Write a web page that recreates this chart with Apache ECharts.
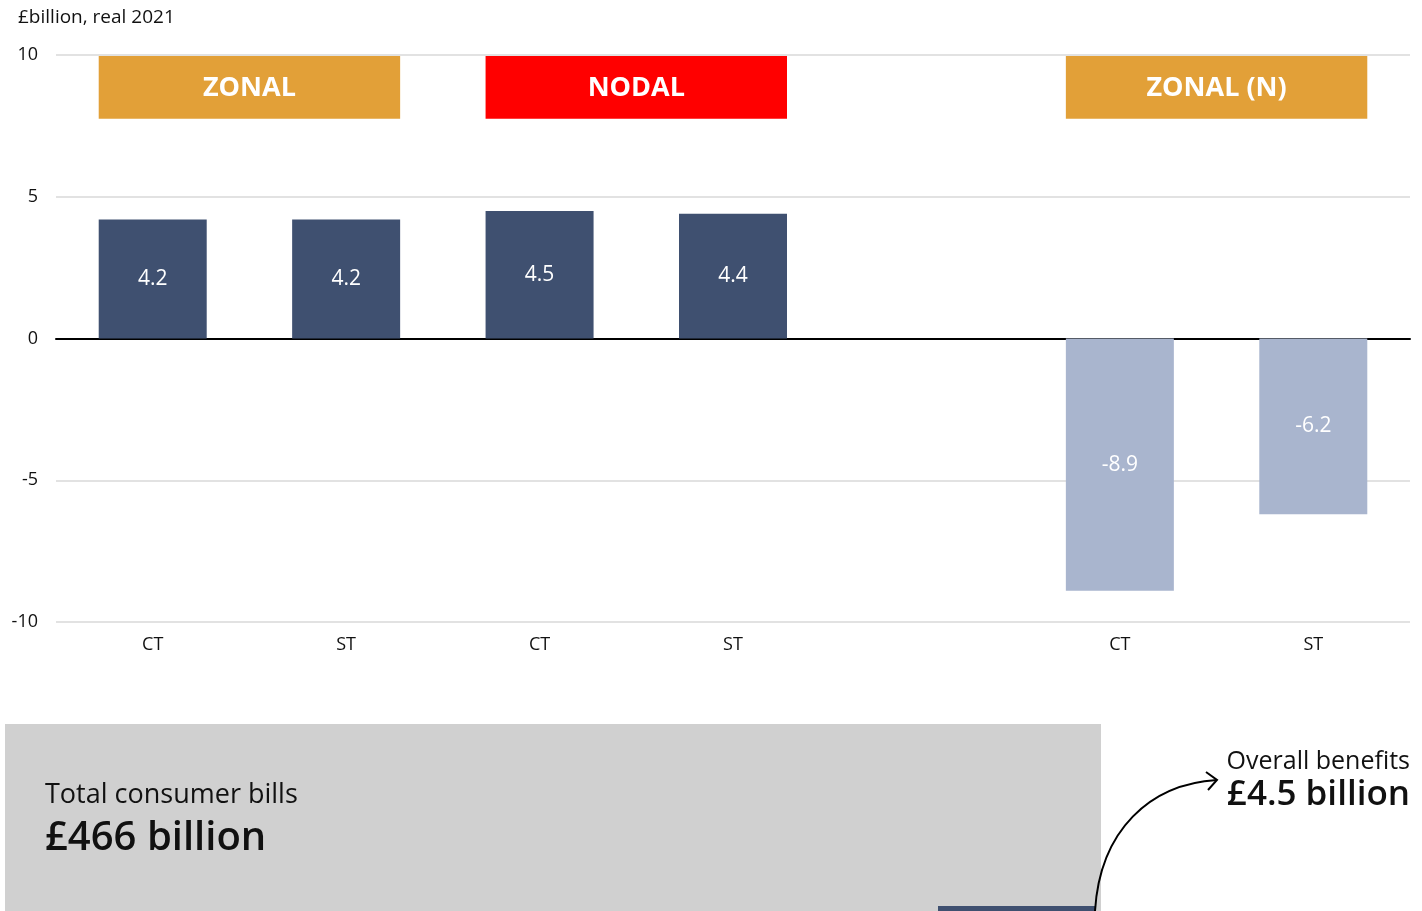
<!DOCTYPE html>
<html>
<head>
<meta charset="utf-8">
<title>Consumer benefits</title>
<script src="https://cdn.jsdelivr.net/npm/echarts@6/dist/echarts.min.js"></script>
<style>
  html, body { margin: 0; padding: 0; background: #ffffff; }
  #chart { width: 1422px; height: 911px; }
</style>
</head>
<body>
<div id="chart"></div>
<script>
// categories on the x axis (the blank one is the gap between the groups)
var categories = ['CT', 'ST', 'CT', 'ST', '', 'CT', 'ST']
// £billion, real 2021
var values = [4.2, 4.2, 4.5, 4.4, null, -8.9, -6.2]
var yTicks = [-10, -5, 0, 5, 10]

// group headers over the bars
var headerNames = ['ZONAL', 'NODAL', 'ZONAL (N)']
var headerFrom = [0, 2, 5]
var headerTo = [1, 3, 6]

var totalBills = '£466 billion'
var overallBenefits = '£4.5 billion'

var FONT = '"Open Sans", "DejaVu Sans", sans-serif'
var BAR_W = 108
var headerColors = ['#E2A038', '#FF0000', '#E2A038']

var chart = echarts.init(document.getElementById('chart'))

var headerData = headerNames.map(function (n, i) {
  return [headerFrom[i], headerTo[i], n, i]
})

chart.setOption({
  animation: false,
  textStyle: { fontFamily: FONT },
  grid: { left: 56, right: 12, top: 55, bottom: 289 },
  xAxis: {
    type: 'category',
    data: categories,
    axisLine: { onZero: true, lineStyle: { color: '#000', width: 2 } },
    axisTick: { show: false },
    axisLabel: { color: '#111', fontSize: 18, margin: 14, fontFamily: FONT }
  },
  yAxis: {
    type: 'value',
    min: yTicks[0],
    max: yTicks[yTicks.length - 1],
    interval: 5,
    axisLine: { show: false },
    axisTick: { show: false },
    axisLabel: { color: '#111', fontSize: 18, margin: 18, fontFamily: FONT },
    splitLine: { lineStyle: { color: '#d9d9d9', width: 1.5 } }
  },
  series: [
    {
      type: 'bar',
      barWidth: BAR_W,
      data: values.map(function (v) {
        return {
          value: v,
          itemStyle: { color: v != null && v < 0 ? '#A9B5CE' : '#3F5070' }
        }
      }),
      label: {
        show: true,
        position: 'inside',
        color: '#fff',
        fontSize: 21,
        fontFamily: FONT,
        formatter: function (p) { return p.value == null ? '' : p.value.toFixed(1) }
      },
      z: 3
    },
    {
      type: 'custom',
      data: headerData,
      encode: { x: [0, 1] },
      renderItem: function (params, api) {
        var a = api.coord([api.value(0), 10])
        var b = api.coord([api.value(1), 7.75])
        var x0 = a[0] - BAR_W / 2
        var x1 = b[0] + BAR_W / 2
        var idx = api.value(3)
        return {
          type: 'group',
          children: [
            {
              type: 'rect',
              shape: { x: x0, y: a[1] + 1, width: x1 - x0, height: b[1] - a[1] - 1 },
              style: { fill: headerColors[idx] }
            },
            {
              type: 'text',
              x: (x0 + x1) / 2,
              y: (a[1] + b[1]) / 2 + 1,
              style: {
                text: headerNames[idx],
                fill: '#fff',
                font: 'bold 27px ' + FONT,
                align: 'center',
                verticalAlign: 'middle'
              }
            }
          ]
        }
      },
      z: 4
    }
  ],
  graphic: [
    {
      type: 'text', left: 18, top: 8,
      style: { text: '£billion, real 2021', fill: '#111', font: '19px ' + FONT }
    },
    {
      type: 'rect', left: 5, top: 724,
      shape: { width: 1096, height: 200 },
      style: { fill: '#D0D0D0' }
    },
    {
      type: 'rect', left: 938, top: 906,
      shape: { width: 157, height: 10 },
      style: { fill: '#3F5070' }
    },
    {
      type: 'text', left: 45, top: 782,
      style: { text: 'Total consumer bills', fill: '#111', font: '27px ' + FONT }
    },
    {
      type: 'text', left: 45, top: 819,
      style: { text: totalBills, fill: '#111', font: '600 40px ' + FONT }
    },
    {
      type: 'text', right: 12, top: 749,
      style: { text: 'Overall benefits', fill: '#111', font: '25px ' + FONT, align: 'right' }
    },
    {
      type: 'text', right: 12, top: 778,
      style: { text: overallBenefits, fill: '#111', font: '600 35px ' + FONT, align: 'right' }
    },
    {
      type: 'bezierCurve',
      shape: { x1: 1095, y1: 911, cpx1: 1100, cpy1: 830, cpx2: 1150, cpy2: 784, x2: 1217, y2: 780 },
      style: { stroke: '#000', lineWidth: 2, fill: null }
    },
    {
      type: 'polyline',
      shape: { points: [[1206, 772], [1217, 780], [1208, 790]] },
      style: { stroke: '#000', lineWidth: 2, fill: null }
    }
  ]
})

window.onresize = function () {
  chart.resize()
}
</script>
</body>
</html>
